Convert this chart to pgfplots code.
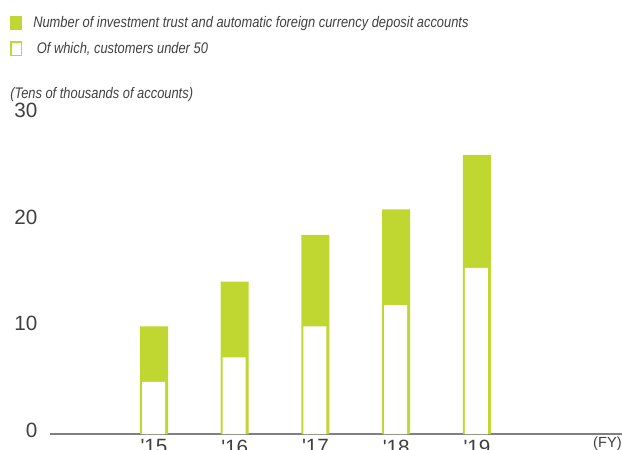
\documentclass[border=0pt]{standalone}
\usepackage{pgfplots}
\pgfplotsset{compat=1.18}
\usepackage{fontspec}
\setmainfont{Liberation Sans}
\newfontfamily\numfont{Liberation Sans}
\newfontfamily\condfont[FakeStretch=0.84]{Liberation Sans}
\definecolor{barg}{RGB}{191,215,48}
\definecolor{txt}{RGB}{64,64,64}
\definecolor{axgray}{RGB}{128,128,128}

\begin{document}
\begin{tikzpicture}
\path[use as bounding box] (0,0) rectangle (466.5pt,337.5pt);
\begin{axis}[
  at={(37.5pt,12pt)}, anchor=south west,
  scale only axis, width=429pt, height=239.6pt,
  xmin=13.712, xmax=20.796, ymin=0, ymax=30,
  axis x line=bottom, axis y line=left,
  x axis line style={-, draw=axgray, line width=1.1pt},
  y axis line style={draw=none},
  major tick length=0pt,
  xtick={15,...,19}, xticklabels={'15,'16,'17,'18,'19},
  ytick={0,10,20,30},
  /pgf/number format/assume math mode=true,
  tick label style={font=\numfont\fontsize{15.5}{18}\selectfont, text=txt},
  yticklabel style={xshift=-6pt, yshift=3pt},
  xticklabel style={yshift=-0.75pt},
  xlabel={(FY)},
  xlabel style={at={(rel axis cs:1,0)}, anchor=north east, inner sep=0pt, yshift=-2pt,
    font=\numfont\fontsize{11}{13}\selectfont, text=txt},
  title={(Tens of thousands of accounts)},
  title style={at={(rel axis cs:0,1)}, anchor=west, inner sep=0pt, xshift=-30pt, yshift=9.25pt,
    font=\condfont\itshape\fontsize{11.5}{13.8}\selectfont, text=txt},
  legend style={at={(rel axis cs:0,1)}, anchor=north west, xshift=-30pt, yshift=73.8pt,
    draw=none, fill=none, inner sep=0pt, row sep=8.3pt, column sep=8.25pt,
    font=\condfont\itshape\fontsize{11.5}{13.8}\selectfont, text=txt,
    nodes={inner sep=0pt}},
  legend cell align=left,
]
\addplot[ybar, bar width=21pt, bar shift=0pt, fill=barg, draw=none,
  legend image code/.code={\fill[barg] (0pt,-5.25pt) rectangle (9pt,5.25pt);}]
  coordinates {(15,10.1) (16,14.3) (17,18.7) (18,21.1) (19,26.2)};
\addlegendentry{Number of investment trust and automatic foreign currency deposit accounts}
\addplot[ybar, bar width=17.25pt, bar shift=-0.375pt, fill=white, draw=none,
  legend image code/.code={\draw[barg, line width=1.1pt, fill=white] (0.55pt,-4.9pt) rectangle (8.45pt,5.1pt);}]
  coordinates {(15,4.9) (16,7.2) (17,10.1) (18,12.1) (19,15.6)};
\addlegendentry{\hspace{2.7pt}Of which, customers under 50}
\end{axis}
\end{tikzpicture}
\end{document}
